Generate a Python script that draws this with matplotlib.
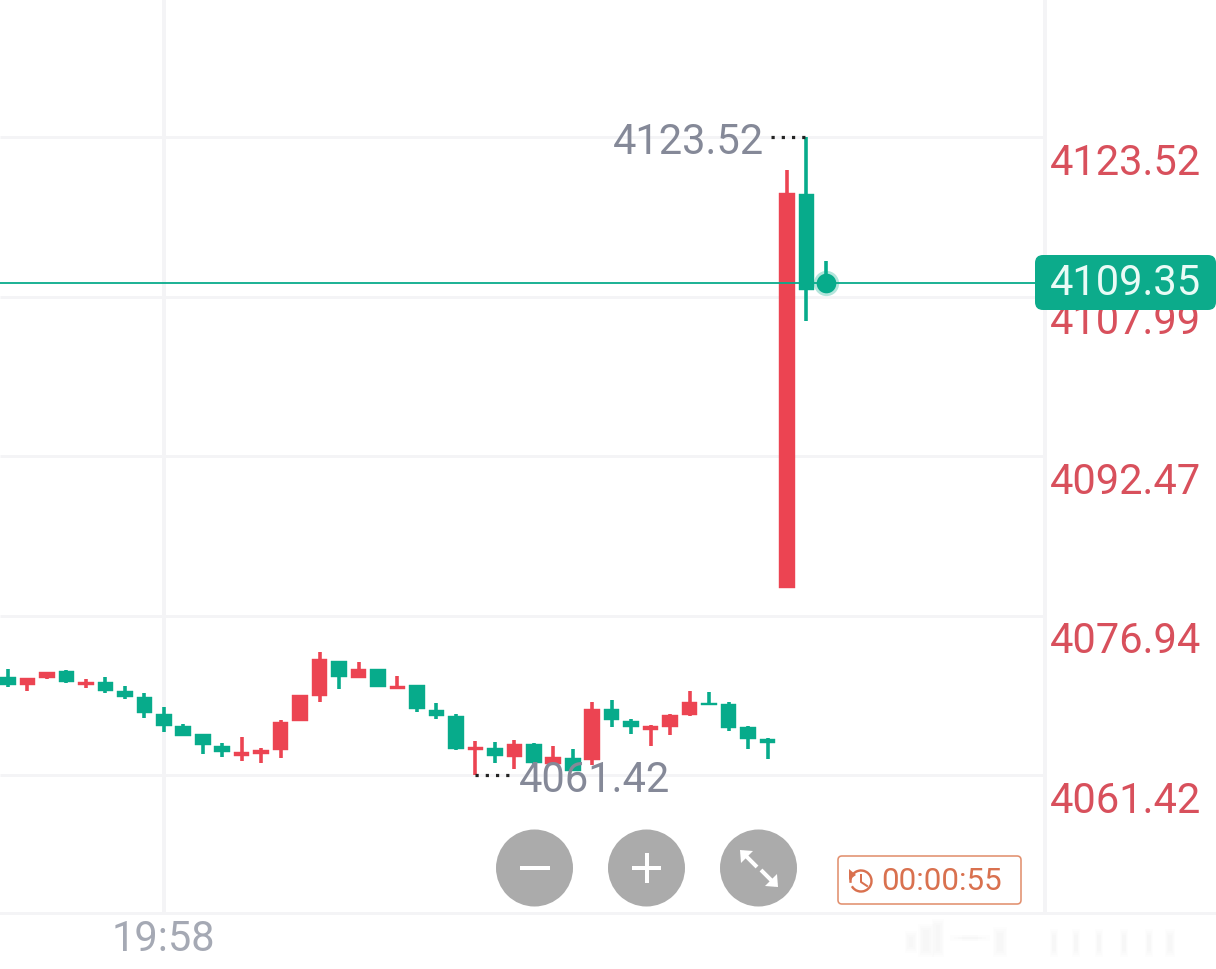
import matplotlib
matplotlib.use("Agg")
import matplotlib.pyplot as plt
from matplotlib.patches import Circle, FancyBboxPatch, Arc, Polygon, Rectangle

plt.rcParams['font.family'] = ['Roboto', 'DejaVu Sans']

# Candles, oldest first; red closes above its open, green closes below it
highs = [4071.71, 4070.89, 4071.45, 4071.64, 4070.74, 4070.99, 4070.08, 4069.43, 4068.07, 4066.38,
         4065.41, 4064.53, 4065.09, 4064.05, 4066.74, 4069.18, 4073.39, 4072.52, 4072.42, 4071.71,
         4071.06, 4070.21, 4068.40, 4067.33, 4064.73, 4064.60, 4064.80, 4064.56, 4064.21, 4063.95,
         4068.56, 4068.72, 4066.87, 4066.29, 4067.33, 4069.57, 4069.47, 4068.56, 4066.19, 4065.02,
         4120.31, 4123.52, 4111.45]
body_tops = [4070.96, 4070.86, 4071.42, 4071.51, 4070.50, 4070.47, 4069.60, 4069.01, 4067.36, 4066.16,
             4065.41, 4064.21, 4063.63, 4063.82, 4066.61, 4069.18, 4072.68, 4072.49, 4071.71, 4071.71,
             4070.08, 4070.15, 4067.78, 4067.19, 4064.17, 4064.05, 4064.44, 4064.41, 4063.17, 4063.10,
             4067.84, 4067.82, 4066.71, 4066.16, 4067.29, 4068.56, 4068.46, 4068.33, 4066.09, 4064.90,
             4118.10, 4117.95, 4109.55]
body_bottoms = [4070.18, 4070.18, 4070.89, 4070.44, 4070.21, 4069.63, 4069.01, 4067.48, 4066.19, 4065.22,
                4064.34, 4063.69, 4063.30, 4063.46, 4063.85, 4066.68, 4069.11, 4070.96, 4070.89, 4070.02,
                4069.82, 4067.87, 4067.16, 4063.98, 4063.85, 4063.24, 4063.20, 4062.56, 4062.46, 4061.84,
                4062.88, 4066.74, 4066.12, 4065.83, 4066.12, 4067.29, 4068.20, 4066.02, 4064.92, 4064.56,
                4079.62, 4108.66, 4109.35]
lows = [4070.02, 4069.63, 4070.74, 4070.35, 4069.92, 4069.43, 4068.85, 4067.00, 4065.58, 4065.22,
        4063.49, 4063.20, 4062.75, 4062.62, 4063.05, 4066.68, 4068.50, 4069.82, 4070.89, 4069.96,
        4069.82, 4067.52, 4066.84, 4063.85, 4061.42, 4062.62, 4061.97, 4062.39, 4062.46, 4061.84,
        4062.39, 4066.09, 4065.38, 4064.24, 4065.31, 4067.19, 4068.20, 4065.67, 4063.92, 4063.01,
        4079.62, 4105.58, 4109.35]
rising = [0, 1, 1, 0, 1, 0, 0, 0, 0, 0,
          0, 0, 1, 1, 1, 1, 1, 0, 1, 0,
          1, 0, 0, 0, 1, 0, 1, 0, 1, 0,
          1, 0, 0, 1, 1, 1, 0, 0, 0, 0,
          1, 0, 0]

price_ticks = [4123.52, 4107.99, 4092.47, 4076.94, 4061.42]
last_price = 4109.35
session_high = 4123.52
session_low = 4061.42
time_label = "19:58"
time_label_index = 8
countdown = "00:00:55"

RED = "#ec4452"
GREEN = "#07ab8b"
GRID = "#f4f4f6"
GREY_TEXT = "#858998"
AXIS_RED = "#d8505c"
W, H = 1216, 970
AXIS_EDGE = 53.24   # bar position of the price-axis divider
TIME_BASE = 4047.99  # price level of the time-axis rule

fig = plt.figure(figsize=(W / 100, H / 100), dpi=100, facecolor="white")
ax = fig.add_axes([0, 0, 1, 1])
px = 72 / 100  # one pixel in points

# Price and bar scales
ax.set_xlim(-0.411, 62.03)
ax.set_ylim(4042.54, 4136.96)
ax.axis("off")

# Grid
ax.hlines(price_ticks, -0.411, AXIS_EDGE, color=GRID, lw=3 * px, zorder=1)
ax.vlines(time_label_index, TIME_BASE, 4136.96, color=GRID, lw=4 * px, zorder=1)
ax.vlines(AXIS_EDGE, TIME_BASE, 4136.96, color=GRID, lw=4 * px, zorder=1)
ax.axhline(TIME_BASE, color=GRID, lw=3 * px, zorder=1)

# Candles
for i, (hi, top, bot, lo, up) in enumerate(zip(highs, body_tops, body_bottoms, lows, rising)):
    c = RED if up else GREEN
    ax.vlines(i, lo, hi, color=c, lw=3.6 * px, zorder=3)
    ax.bar(i, max(top - bot, 0.02), bottom=bot, width=0.8, color=c, ec=c, lw=0.4 * px, zorder=3)

# Last price line and pulsing marker
ax.plot([-0.411, AXIS_EDGE], [last_price, last_price], color=GREEN, lw=2 * px, alpha=0.9, zorder=4)
ax.scatter([42], [last_price], s=330, color=GREEN, alpha=0.3, linewidths=0, zorder=5)
ax.scatter([42], [last_price], s=200, color=GREEN, linewidths=0, zorder=5)

# High and low callouts
dots = (0, (1, 2.2))
ax.plot([39.2, 41], [session_high, session_high], color="#222222", lw=3.2 * px, ls=dots, zorder=4)
ax.plot([24, 25.9], [session_low, session_low], color="#222222", lw=3.2 * px, ls=dots, zorder=4)
ax.annotate(f"{session_high:.2f}", xy=(38.8, session_high), xytext=(0, -4), textcoords="offset pixels",
            ha="right", va="center", fontsize=30, color=GREY_TEXT, zorder=6)
ax.annotate(f"{session_low:.2f}", xy=(26.25, session_low), xytext=(0, -4), textcoords="offset pixels",
            ha="left", va="center", fontsize=30, color=GREY_TEXT, zorder=6)

# Price axis labels sit just under their grid lines
for p in price_ticks:
    ax.annotate(f"{p:.2f}", xy=(1201 / W, p), xycoords=("axes fraction", "data"),
                xytext=(0, -25), textcoords="offset pixels",
                ha="right", va="center", fontsize=30, color=AXIS_RED, zorder=2)

# Time axis label
ax.text(time_label_index, 4042.54 + 2.95, time_label, ha="center", va="center",
        fontsize=30, color="#a5a9b4", zorder=2)

# Interface overlay, laid out in screen units
ui = fig.add_axes([0, 0, 1, 1], facecolor="none")
ui.set_xlim(0, W)
ui.set_ylim(H, 0)
ui.axis("off")

for cx in (534.5, 646.5, 758.5):
    ui.add_patch(Circle((cx, 869), 38.5, color="#ababab", lw=0))
white = dict(color="white", lw=4 * px, solid_capstyle="butt")
ui.plot([520, 550], [869, 869], **white)
ui.plot([632, 661], [869, 869], **white)
ui.plot([646.5, 646.5], [854, 884], **white)
ui.plot([742, 757], [853, 868], **white)
ui.plot([761, 776], [871, 886], **white)
ui.add_patch(Polygon([(740, 851), (753, 852), (741, 864)], color="white", lw=0))
ui.add_patch(Polygon([(778, 888), (765, 887), (777, 875)], color="white", lw=0))

# Current price tag
ui.add_patch(FancyBboxPatch((1041, 262), 169, 43, boxstyle="round,pad=6,rounding_size=8",
                            fc="#0cab8b", ec="none", zorder=5))
ui.text(1125, 284, f"{last_price:.2f}", ha="center", va="center", fontsize=30,
        color="#e9fbf6", zorder=6)

# Countdown chip
ui.add_patch(FancyBboxPatch((841, 860), 177, 42, boxstyle="round,pad=3,rounding_size=4",
                            fc="white", ec="#e2906f", lw=1.6 * px))
ui.text(942, 882, countdown, ha="center", va="center", fontsize=22.6, color="#d9714f")
ui.add_patch(Arc((861, 882), 21, 21, angle=0, theta1=-190, theta2=150, color="#d9714f", lw=2.4 * px))
ui.plot([861, 861, 867], [876, 883, 887], color="#d9714f", lw=2 * px)
ui.add_patch(Polygon([(849, 870), (856, 876), (849, 881)], color="#d9714f", lw=0))

# Faint smudge beneath the time axis
smudges = [(905, 12, 932, 954), (918, 16, 925, 958), (932, 12, 920, 958), (950, 40, 936, 942),
           (993, 14, 928, 958), (1050, 8, 930, 958), (1072, 8, 930, 958), (1095, 8, 930, 958),
           (1120, 8, 930, 958), (1145, 8, 930, 958), (1165, 10, 930, 958)]
for x0, w, y0, y1 in smudges:
    for k in range(4):
        ui.add_patch(Rectangle((x0 + k * w * 0.1, y0 + k * 2), w * (1 - 0.2 * k), y1 - y0 - k * 4,
                               color="#8a8a8a", alpha=0.012, lw=0))

fig.savefig("out.png", dpi=100, facecolor="white")
